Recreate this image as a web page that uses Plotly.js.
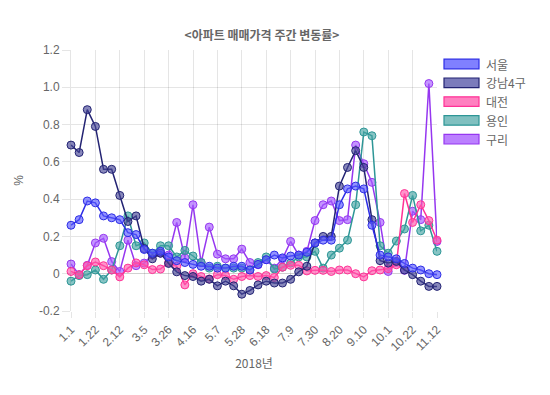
<!DOCTYPE html>
<html>
<head>
<meta charset="utf-8">
<script src="https://cdn.plot.ly/plotly-3.0.1.min.js"></script>
<style>html,body{margin:0;padding:0;background:#fff;}#chart{width:550px;height:395px;}</style>
</head>
<body>
<div id="chart"></div>
<script>
// weekly dates, 2018
const weeks = ["1.1","1.8","1.15","1.22","1.29","2.5","2.12","2.19","2.26","3.5","3.12","3.19","3.26","4.2","4.9","4.16","4.23","4.30","5.7","5.14","5.21","5.28","6.4","6.11","6.18","6.25","7.2","7.9","7.16","7.23","7.30","8.6","8.13","8.20","8.27","9.3","9.10","9.17","9.24","10.1","10.8","10.15","10.22","10.29","11.5","11.12"];
const tickWeeks = ["1.1","1.22","2.12","3.5","3.26","4.16","5.7","5.28","6.18","7.9","7.30","8.20","9.10","10.1","10.22","11.12"];
const yTickVals = [1.2,1.0,0.8,0.6,0.4,0.2,0,-0.2];
const yTickText = ["1.2","1.0","0.8","0.6","0.4","0.2","0","-0.2"];

const seoul = [0.26,0.29,0.39,0.38,0.31,0.30,0.29,0.22,0.21,0.13, 0.11,0.12,0.09,0.07,0.06,0.05,0.04,0.04,0.03,0.03, 0.04,0.04,0.02,0.05,0.075,0.10,0.085,0.095,0.10,0.115, 0.165,0.18,0.18,0.37,0.455,0.47,0.455,0.26,0.10,0.09, 0.08,0.055,0.03,0.02,0.0,-0.005];
const gangnam4 = [0.69,0.65,0.88,0.79,0.56,0.56,0.42,0.28,0.31,0.135, 0.08,0.11,0.055,0.01,-0.01,-0.015,-0.04,-0.03,-0.065,-0.04, -0.065,-0.11,-0.09,-0.06,-0.04,-0.05,-0.05,-0.03,0.01,0.04, 0.165,0.2,0.2,0.47,0.57,0.66,0.57,0.29,0.07,0.057, 0.066,0.02,-0.005,-0.04,-0.068,-0.068];
const daejeon = [0.012,-0.005,0.043,0.063,0.043,0.02,-0.017,0.03,0.058,0.048, 0.022,0.025,0.06,0.04,-0.06,0.0,-0.015,-0.028,-0.005,-0.01, -0.03,-0.015,-0.01,-0.015,-0.01,-0.02,0.035,0.045,0.045,0.015, 0.018,0.018,0.012,0.02,0.02,0.0,-0.017,0.016,0.02,0.027, 0.048,0.43,0.275,0.37,0.285,0.18];
const yongin = [-0.04,-0.01,-0.005,0.02,-0.03,0.02,0.15,0.31,0.15,0.165, 0.11,0.15,0.15,0.09,0.125,0.095,0.06,0.03,0.04,0.03, 0.03,0.03,0.02,0.06,0.09,0.025,0.035,0.057,0.09,0.09, 0.12,0.03,0.1,0.137,0.18,0.37,0.76,0.74,0.15,0.11, 0.175,0.24,0.42,0.23,0.26,0.12];
const guri = [0.052,-0.005,0.045,0.165,0.19,0.065,0.012,0.18,0.043,0.057, 0.1,0.11,0.1,0.275,0.085,0.37,0.06,0.25,0.105,0.08, 0.08,0.132,0.06,0.048,0.075,0.03,0.08,0.173,0.1,0.12, 0.285,0.37,0.39,0.285,0.29,0.69,0.59,0.49,0.275,0.012, 0.06,0.018,0.335,0.29,1.02,0.173];

const seriesNames = ["서울","강남4구","대전","용인","구리"];
const seriesData = [seoul, gangnam4, daejeon, yongin, guri];
const lineColors = ["rgb(45,45,230)","rgb(35,35,115)","rgb(255,50,150)","rgb(45,150,150)","rgb(150,55,240)"];
const markerFills = ["rgba(90,90,255,0.65)","rgba(70,70,150,0.65)","rgba(255,90,175,0.65)","rgba(70,165,165,0.65)","rgba(165,90,255,0.65)"];
const boxFills = ["#8080ff","#7b7bbb","#ff80c0","#80c0c0","#bb80ff"];

const W = 550, H = 395;
const M = {l:71, r:113, t:50, b:84};
const px2x = p => (p - M.l) / (W - M.l - M.r);
const py2y = p => (H - M.b - p) / (H - M.t - M.b);

const traces = [];
for (let i = seriesNames.length - 1; i >= 0; i--) {
  traces.push({
    type: 'scatter', mode: 'lines+markers',
    name: seriesNames[i], x: weeks, y: seriesData[i],
    line: {color: lineColors[i], width: 1.5},
    marker: {size: 8, color: markerFills[i], line: {color: lineColors[i], width: 1}},
    cliponaxis: false,
    showlegend: false
  });
}

const shapes = [], annotations = [];
seriesNames.forEach((n, i) => {
  const cy = 64 + i * 18.8;
  shapes.push({type:'rect', xref:'paper', yref:'paper',
    x0: px2x(444), x1: px2x(479), y0: py2y(cy + 4.8), y1: py2y(cy - 4.8),
    fillcolor: boxFills[i], line: {color: lineColors[i], width: 1.2}});
  annotations.push({xref:'paper', yref:'paper', x: px2x(484), y: py2y(cy),
    xanchor:'left', yanchor:'middle', showarrow:false, text: n,
    font: {size: 12, color: '#666', family: 'Noto Sans CJK KR, Liberation Sans'}});
});

const gridC = 'rgba(0,0,0,0.1)';
const layout = {
  width: W, height: H,
  margin: M,
  paper_bgcolor: '#fff', plot_bgcolor: '#fff',
  font: {family: 'Liberation Sans, Noto Sans CJK KR', size: 12, color: '#666'},
  title: {text: '<b>&lt;아파트 매매가격 주간 변동률&gt;</b>', x: 262/550, xanchor: 'center', y: 1 - 36/395, yanchor: 'middle',
    font: {size: 12, color: '#666', family: 'Noto Sans CJK KR, Liberation Sans'}},
  xaxis: {
    type: 'category', range: [0, weeks.length - 1],
    tickmode: 'array', tickvals: tickWeeks, ticktext: tickWeeks, tickangle: -45,
    showgrid: true, gridcolor: gridC, gridwidth: 1,
    ticks: 'outside', ticklen: 6, tickcolor: gridC,
    showline: false, zeroline: false,
    tickfont: {size: 12, color: '#666'},
    title: {text: '2018년', standoff: 6, font: {size: 12, color: '#666', family: 'Noto Sans CJK KR, Liberation Sans'}}
  },
  yaxis: {
    range: [-0.2, 1.2],
    tickmode: 'array', tickvals: yTickVals, ticktext: yTickText,
    showgrid: true, gridcolor: gridC, gridwidth: 1,
    zeroline: true, zerolinecolor: 'rgba(0,0,0,0.18)', zerolinewidth: 1,
    ticks: 'outside', ticklen: 8, tickcolor: gridC,
    showline: true, linecolor: gridC, linewidth: 1,
    tickfont: {size: 12, color: '#666'},
    title: {text: '%', standoff: 12, font: {size: 12, color: '#666'}}
  },
  shapes: shapes,
  annotations: annotations,
  showlegend: false
};

Plotly.newPlot('chart', traces, layout, {displayModeBar: false, staticPlot: true});
</script>
</body>
</html>
